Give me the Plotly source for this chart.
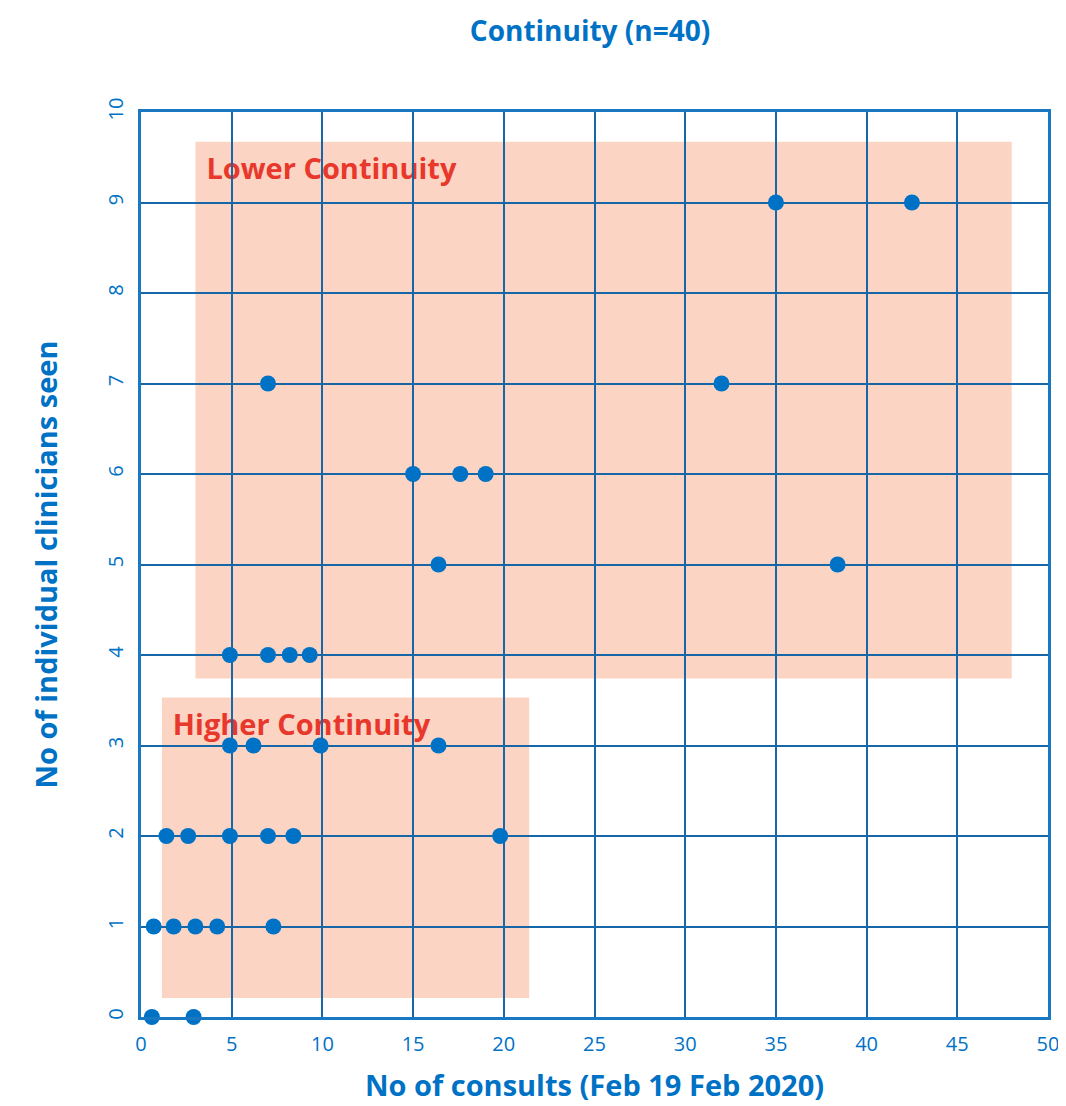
import plotly.graph_objects as go

# Data
consults = [35, 42.5,
            7, 32,
            15, 17.6, 19,
            16.4, 38.4,
            4.9, 7, 8.2, 9.3,
            4.9, 6.2, 9.9, 16.4,
            1.4, 2.6, 4.9, 7, 8.4, 19.8,
            0.7, 1.8, 3.0, 4.2, 7.3,
            0.6, 2.9]
clinicians = [9, 9,
              7, 7,
              6, 6, 6,
              5, 5,
              4, 4, 4, 4,
              3, 3, 3, 3,
              2, 2, 2, 2, 2, 2,
              1, 1, 1, 1, 1,
              0, 0]

# Shaded regions and labels
region_names = ["Lower Continuity", "Higher Continuity"]
region_x0 = [3.0, 1.15]
region_x1 = [48.0, 21.4]
region_y0 = [3.74, 0.21]
region_y1 = [9.67, 3.53]

x_ticks = [0, 5, 10, 15, 20, 25, 30, 35, 40, 45, 50]
y_ticks = [0, 1, 2, 3, 4, 5, 6, 7, 8, 9, 10]

BLUE = "#0072C6"
GRID = "#1767A8"
FILL = "#FCD4C3"
RED = "#E8372B"
FONT = "Open Sans"

fig = go.Figure()
fig.add_trace(go.Scatter(
    x=consults, y=clinicians, mode="markers",
    marker=dict(color=BLUE, size=16),
    showlegend=False, cliponaxis=False,
))

for name, x0, x1, y0, y1 in zip(region_names, region_x0, region_x1, region_y0, region_y1):
    fig.add_shape(type="rect", x0=x0, x1=x1, y0=y0, y1=y1,
                  xref="x", yref="y", fillcolor=FILL, line_width=0, layer="below",
                  label=dict(text="<b>" + name + "</b>", textposition="top left",
                             padding=8, font=dict(family=FONT, size=29, color=RED)))

fig.update_layout(
    width=1066, height=1106,
    margin=dict(l=133, r=26, t=104, b=97),
    paper_bgcolor="white", plot_bgcolor="white",
    title=dict(text="<b>Continuity (n=40)</b>", x=0.546, xanchor="center", y=0.979, yanchor="middle",
               font=dict(family=FONT, size=28, color=BLUE)),
    font=dict(family=FONT, color=BLUE),
)
fig.update_xaxes(
    range=[0, 50], tickvals=x_ticks, ticktext=[str(v) for v in x_ticks],
    showgrid=True, gridcolor=GRID, gridwidth=2,
    showline=True, linecolor="#1A78C2", linewidth=3, mirror=True,
    zeroline=False, ticks="", ticklen=0, ticklabelstandoff=7,
    tickfont=dict(family=FONT, size=20, color=BLUE),
    title=dict(text="<b>No of consults (Feb 19 Feb 2020)</b>", standoff=20,
               font=dict(family=FONT, size=29, color=BLUE)),
)
fig.update_yaxes(
    range=[0, 10], tickvals=y_ticks, ticktext=[str(v) for v in y_ticks],
    showgrid=True, gridcolor=GRID, gridwidth=2,
    showline=True, linecolor="#1A78C2", linewidth=3, mirror=True,
    zeroline=False, ticks="", ticklen=0, tickangle=-90, ticklabelstandoff=7,
    tickfont=dict(family=FONT, size=20, color=BLUE),
    title=dict(text="<b>No of individual clinicians seen</b>", standoff=36,
               font=dict(family=FONT, size=29, color=BLUE)),
)

fig.write_html("out.html")
